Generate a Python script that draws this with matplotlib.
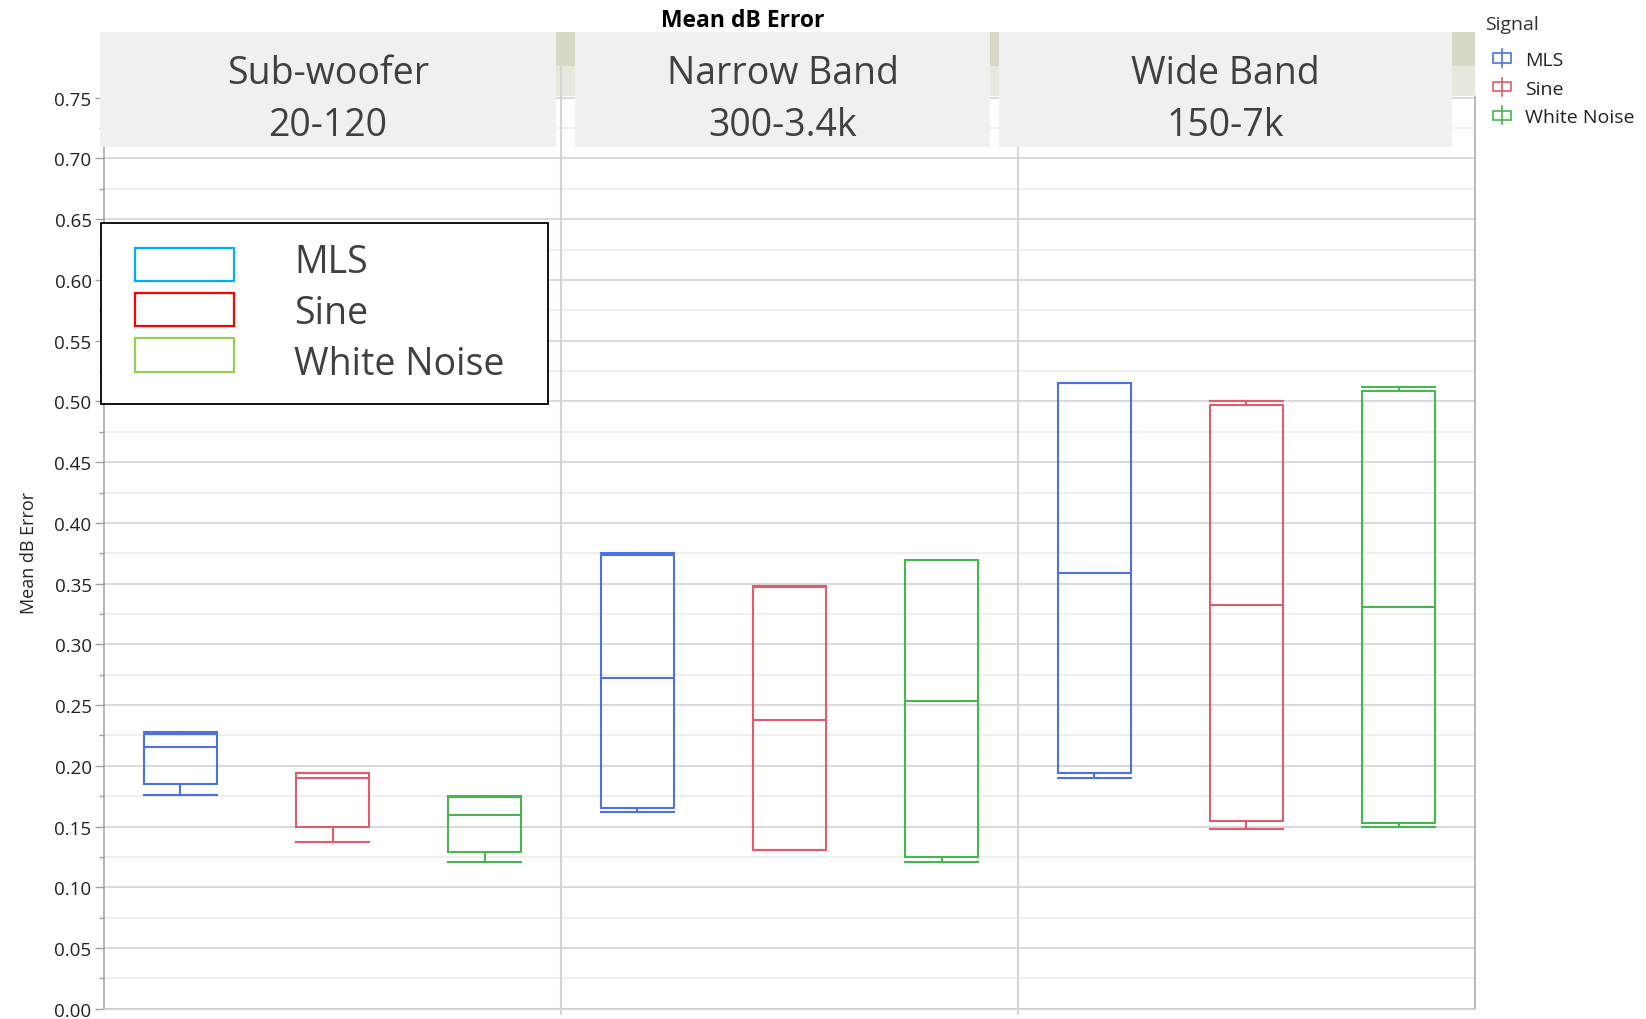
import matplotlib
matplotlib.use("Agg")
import matplotlib.pyplot as plt
from matplotlib.patches import Rectangle
from matplotlib.lines import Line2D
from matplotlib.transforms import Affine2D
from matplotlib.ticker import FormatStrFormatter, MultipleLocator

plt.rcParams["font.family"] = ["Open Sans", "DejaVu Sans"]

# ---- data -------------------------------------------------------------
bands = ["Sub-woofer", "Narrow Band", "Wide Band"]
band_ranges = ["20-120", "300-3.4k", "150-7k"]
signals = ["MLS", "Sine", "White Noise"]

# rows: band, columns: signal (MLS, Sine, White Noise)
whisker_low = [[0.1763, 0.1371, 0.1206],
               [0.1623, 0.1305, 0.1206],
               [0.1903, 0.1480, 0.1499]]
q1 = [[0.1848, 0.1499, 0.1288],
      [0.1656, 0.1307, 0.1252],
      [0.1944, 0.1543, 0.1530]]
median = [[0.2153, 0.1900, 0.1595],
          [0.2723, 0.2375, 0.2531],
          [0.3587, 0.3321, 0.3308]]
q3 = [[0.2262, 0.1938, 0.1745],
      [0.3738, 0.3470, 0.3695],
      [0.5149, 0.4973, 0.5086]]
whisker_high = [[0.2276, 0.1941, 0.1754],
                [0.3752, 0.3483, 0.3695],
                [0.5149, 0.5006, 0.5119]]

y_major = [0.00, 0.05, 0.10, 0.15, 0.20, 0.25, 0.30, 0.35,
           0.40, 0.45, 0.50, 0.55, 0.60, 0.65, 0.70, 0.75]

signal_colors = ["#4a72e0", "#e05c6c", "#44b84c"]
inset_colors = ["#00b0f0", "#ff0000", "#92d050"]
text_dark = "#404040"

# ---- figure -----------------------------------------------------------
W, H = 1646, 1020
fig = plt.figure(figsize=(W / 100, H / 100), dpi=100)
# pixel coordinates, origin at top-left
PX = Affine2D().scale(1 / W, -1 / H).translate(0, 1) + fig.transFigure

ax_left, ax_right, ax_top, ax_bottom = 104, 1475, 97, 1009.8
ax = fig.add_axes([ax_left / W, 1 - ax_bottom / H,
                   (ax_right - ax_left) / W, (ax_bottom - ax_top) / H])

n_sig = len(signals)
for b in range(len(bands)):
    for s in range(n_sig):
        c = signal_colors[s]
        stats = dict(whislo=whisker_low[b][s], q1=q1[b][s], med=median[b][s],
                     q3=q3[b][s], whishi=whisker_high[b][s])
        lp = dict(color=c, linewidth=1.5)
        ax.bxp([stats], positions=[b * n_sig + s + 0.5], widths=0.48,
               capwidths=0.48, showfliers=False, manage_ticks=False,
               boxprops=lp, whiskerprops=lp, capprops=lp, medianprops=lp)

ax.set_xlim(0, len(bands) * n_sig)
ax.set_ylim(0, 0.7514)
ax.set_xticks([])
ax.set_yticks(y_major)
ax.yaxis.set_minor_locator(MultipleLocator(0.025))
ax.yaxis.set_major_formatter(FormatStrFormatter("%.2f"))
ax.grid(which="major", axis="y", color="#d9d9d9", linewidth=1.4)
ax.grid(which="minor", axis="y", color="#efefef", linewidth=1.4)
ax.set_axisbelow(True)
ax.tick_params(axis="y", which="major", direction="out", length=6.5, width=1.0,
               color="#a0a0a0", pad=2.5, labelsize=13.5, labelcolor="#222222")
ax.tick_params(axis="y", which="minor", direction="out", length=3.3, width=1.0,
               color="#a0a0a0")
ax.spines["top"].set_visible(False)
ax.spines["left"].set_color("#a0a0a0")
ax.spines["left"].set_linewidth(1.1)
ax.spines["right"].set_color("#a8a8a8")
ax.spines["right"].set_linewidth(1.1)
ax.spines["bottom"].set_color("#c8c8c8")
ax.spines["bottom"].set_linewidth(1.1)

ax.set_ylabel("Mean dB Error", fontsize=13, color="#222222")
ax.yaxis.set_label_coords(-(ax_left - 37.5) / (ax_right - ax_left), 0.5)

# ---- header band above the panels -------------------------------------
fig.add_artist(Rectangle((ax_left, 33.3), ax_right - ax_left, 33.4,
                         transform=PX, facecolor="#d9d8c6", edgecolor="none", zorder=1))
fig.add_artist(Rectangle((ax_left, 66.7), ax_right - ax_left, ax_top - 66.7,
                         transform=PX, facecolor="#e7e7de", edgecolor="none", zorder=1))

# panel separators
xa = ax.get_xaxis_transform()
for k in range(1, len(bands)):
    fig.add_artist(Line2D([k * n_sig, k * n_sig],
                          [-0.006, (ax_bottom - 66.7) / (ax_bottom - ax_top)],
                          transform=xa, color="#d4d4d4", linewidth=1.5, zorder=1.5))

strip_x = [(99.7, 556.3), (575.2, 989.9), (999.3, 1451.8)]
for (x0, x1), name, rng in zip(strip_x, bands, band_ranges):
    fig.add_artist(Rectangle((x0, 33.3), x1 - x0, 147.7 - 33.3, transform=PX,
                             facecolor="#f0f0f0", edgecolor="none", zorder=2))
    xc = (x0 + x1) / 2
    fig.text(xc, 74.5, name, transform=PX, ha="center", va="center",
             fontsize=27, color=text_dark, zorder=3)
    fig.text(xc, 126, rng, transform=PX, ha="center", va="center",
             fontsize=27, color=text_dark, zorder=3)

fig.text(742.6, 21, "Mean dB Error", transform=PX, ha="center", va="center",
         fontsize=16.5, fontweight="bold", color="black")

# ---- right-hand legend ------------------------------------------------
fig.text(1485.5, 25, "Signal", transform=PX, ha="left", va="center",
         fontsize=14, color="#333333")
for s, (name, c) in enumerate(zip(signals, signal_colors)):
    yc = 59 + s * 28.7
    xc = 1502
    fig.add_artist(Line2D([xc, xc], [yc - 9, yc + 9], transform=PX,
                          color=c, linewidth=1.2))
    fig.add_artist(Rectangle((xc - 9, yc - 4.6), 18, 9.2, transform=PX,
                             facecolor="white", edgecolor=c, linewidth=1.2))
    fig.text(1524.8, yc + 2, name, transform=PX, ha="left", va="center",
             fontsize=14, color="#222222")

# ---- inset legend -----------------------------------------------------
fig.add_artist(Rectangle((100.8, 223.6), 548 - 100.8, 405.2 - 223.6, transform=PX,
                         facecolor="white", edgecolor="black", linewidth=1.3, zorder=3))
label_y = [263, 314, 365]
for s, (name, c) in enumerate(zip(signals, inset_colors)):
    ytop = 248.5 + s * 45.2
    fig.add_artist(Rectangle((135.4, ytop), 98.7, 33.6, transform=PX,
                             facecolor="white", edgecolor=c, linewidth=1.6, zorder=4))
    fig.text(293.9, label_y[s], name, transform=PX, ha="left", va="center",
             fontsize=27, color=text_dark, zorder=4)

fig.savefig("out.png", dpi=100)
